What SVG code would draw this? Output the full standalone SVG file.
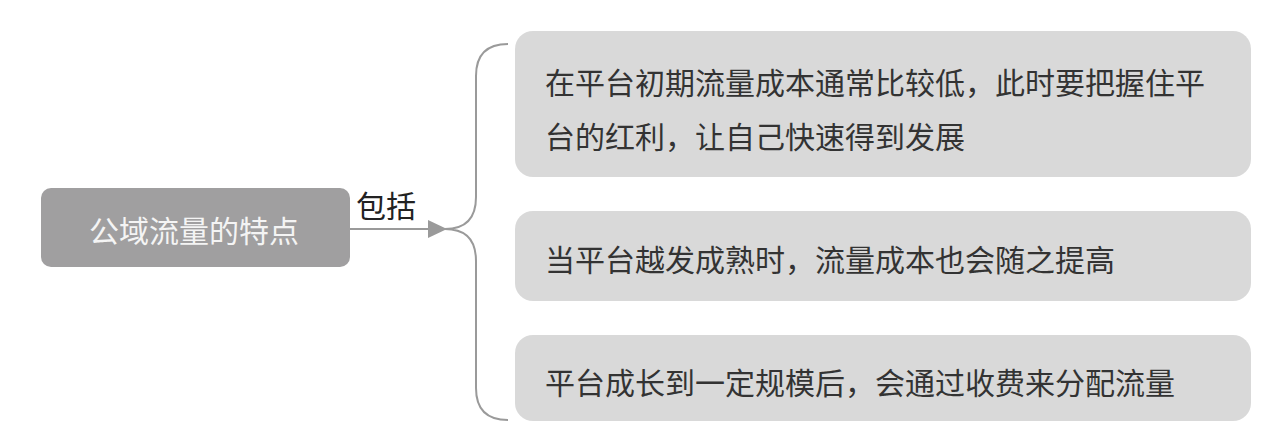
<svg xmlns="http://www.w3.org/2000/svg" width="1267" height="435" viewBox="0 0 1267 435">
<style>
.t{font-family:"Noto Sans CJK SC","Liberation Sans",sans-serif;font-size:30px;fill:#333333}
.leaf{fill:#d9d9d9}
.conn{fill:none;stroke:#9a9a9a;stroke-width:2}
</style>
<rect width="1267" height="435" fill="#ffffff"/>
<g id="root">
<rect x="41" y="188" width="309" height="79" rx="10" fill="#a09fa0"/>
<text x="194" y="242" text-anchor="middle" class="t" style="fill:#f4f4f4">公域流量的特点</text>
</g>
<g id="connectors">
<line x1="350" y1="229" x2="432" y2="229" class="conn"/>
<polygon points="428,220 447,229 428,238" fill="#9a9a9a"/>
<path class="conn" d="M508 44 Q476 44 476 76 L476 197 Q476 229 445 229 Q476 229 476 261 L476 388 Q476 420 508 420"/>
<text x="356" y="217" class="t" style="fill:#222">包括</text>
</g>
<g id="n1">
<rect x="515" y="31" width="736" height="146" rx="18" class="leaf"/>
<text x="545" y="94" class="t">在平台初期流量成本通常比较低，此时要把握住平</text>
<text x="545" y="148" class="t">台的红利，让自己快速得到发展</text>
</g>
<g id="n2">
<rect x="515" y="211" width="736" height="90" rx="18" class="leaf"/>
<text x="545" y="271" class="t">当平台越发成熟时，流量成本也会随之提高</text>
</g>
<g id="n3">
<rect x="515" y="335" width="736" height="86" rx="18" class="leaf"/>
<text x="545" y="394" class="t">平台成长到一定规模后，会通过收费来分配流量</text>
</g>
</svg>
